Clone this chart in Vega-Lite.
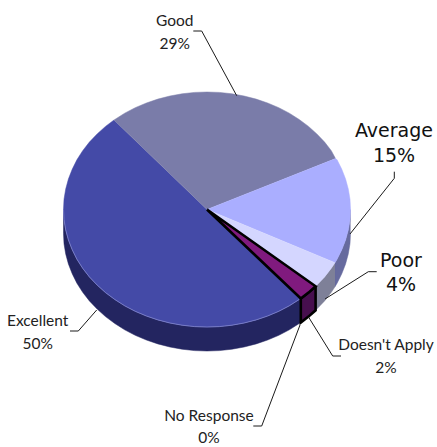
{"$schema":"https://vega.github.io/schema/vega-lite/v6.json","width":437,"height":447,"padding":0,"autosize":"none","background":"white","view":{"stroke":null},
"datasets":{
"sides":[
{"slice":"Average side","order":1,"x":350.5,"y":209.5},{"slice":"Average side","order":2,"x":350.0,"y":219.7},{"slice":"Average side","order":3,"x":348.3,"y":229.9},{"slice":"Average side","order":4,"x":345.6,"y":239.9},{"slice":"Average side","order":5,"x":341.8,"y":249.7},{"slice":"Average side","order":6,"x":337.1,"y":259.2},{"slice":"Average side","order":7,"x":335.0,"y":262.7},{"slice":"Average side","order":8,"x":335.0,"y":286.7},{"slice":"Average side","order":9,"x":337.1,"y":283.2},{"slice":"Average side","order":10,"x":341.8,"y":273.7},{"slice":"Average side","order":11,"x":345.6,"y":263.9},{"slice":"Average side","order":12,"x":348.3,"y":253.9},{"slice":"Average side","order":13,"x":350.0,"y":243.7},{"slice":"Average side","order":14,"x":350.5,"y":233.5},
{"slice":"Poor side","order":1,"x":335.0,"y":262.7},{"slice":"Poor side","order":2,"x":331.3,"y":268.3},{"slice":"Poor side","order":3,"x":324.6,"y":276.9},{"slice":"Poor side","order":4,"x":316.9,"y":285.0},{"slice":"Poor side","order":5,"x":315.6,"y":286.3},{"slice":"Poor side","order":6,"x":315.6,"y":310.3},{"slice":"Poor side","order":7,"x":316.9,"y":309.0},{"slice":"Poor side","order":8,"x":324.6,"y":300.9},{"slice":"Poor side","order":9,"x":331.3,"y":292.3},{"slice":"Poor side","order":10,"x":335.0,"y":286.7},
{"slice":"Excellent side","order":1,"x":300.8,"y":298.5},{"slice":"Excellent side","order":2,"x":299.2,"y":299.5},{"slice":"Excellent side","order":3,"x":289.3,"y":305.8},{"slice":"Excellent side","order":4,"x":278.8,"y":311.3},{"slice":"Excellent side","order":5,"x":267.6,"y":316.0},{"slice":"Excellent side","order":6,"x":256.1,"y":319.9},{"slice":"Excellent side","order":7,"x":244.1,"y":323.0},{"slice":"Excellent side","order":8,"x":231.9,"y":325.2},{"slice":"Excellent side","order":9,"x":219.5,"y":326.6},{"slice":"Excellent side","order":10,"x":207,"y":327},{"slice":"Excellent side","order":11,"x":194.5,"y":326.6},{"slice":"Excellent side","order":12,"x":182.1,"y":325.2},{"slice":"Excellent side","order":13,"x":169.9,"y":323.0},{"slice":"Excellent side","order":14,"x":157.9,"y":319.9},{"slice":"Excellent side","order":15,"x":146.4,"y":316.0},{"slice":"Excellent side","order":16,"x":135.2,"y":311.3},{"slice":"Excellent side","order":17,"x":124.7,"y":305.8},{"slice":"Excellent side","order":18,"x":114.8,"y":299.5},{"slice":"Excellent side","order":19,"x":105.5,"y":292.6},{"slice":"Excellent side","order":20,"x":97.1,"y":285.0},{"slice":"Excellent side","order":21,"x":89.4,"y":276.9},{"slice":"Excellent side","order":22,"x":82.7,"y":268.3},{"slice":"Excellent side","order":23,"x":76.9,"y":259.2},{"slice":"Excellent side","order":24,"x":72.2,"y":249.7},{"slice":"Excellent side","order":25,"x":68.4,"y":239.9},{"slice":"Excellent side","order":26,"x":65.7,"y":229.9},{"slice":"Excellent side","order":27,"x":64.0,"y":219.7},{"slice":"Excellent side","order":28,"x":63.5,"y":209.5},{"slice":"Excellent side","order":29,"x":63.5,"y":233.5},{"slice":"Excellent side","order":30,"x":64.0,"y":243.7},{"slice":"Excellent side","order":31,"x":65.7,"y":253.9},{"slice":"Excellent side","order":32,"x":68.4,"y":263.9},{"slice":"Excellent side","order":33,"x":72.2,"y":273.7},{"slice":"Excellent side","order":34,"x":76.9,"y":283.2},{"slice":"Excellent side","order":35,"x":82.7,"y":292.3},{"slice":"Excellent side","order":36,"x":89.4,"y":300.9},{"slice":"Excellent side","order":37,"x":97.1,"y":309.0},{"slice":"Excellent side","order":38,"x":105.5,"y":316.6},{"slice":"Excellent side","order":39,"x":114.8,"y":323.5},{"slice":"Excellent side","order":40,"x":124.7,"y":329.8},{"slice":"Excellent side","order":41,"x":135.2,"y":335.3},{"slice":"Excellent side","order":42,"x":146.4,"y":340.0},{"slice":"Excellent side","order":43,"x":157.9,"y":343.9},{"slice":"Excellent side","order":44,"x":169.9,"y":347.0},{"slice":"Excellent side","order":45,"x":182.1,"y":349.2},{"slice":"Excellent side","order":46,"x":194.5,"y":350.6},{"slice":"Excellent side","order":47,"x":207,"y":351},{"slice":"Excellent side","order":48,"x":219.5,"y":350.6},{"slice":"Excellent side","order":49,"x":231.9,"y":349.2},{"slice":"Excellent side","order":50,"x":244.1,"y":347.0},{"slice":"Excellent side","order":51,"x":256.1,"y":343.9},{"slice":"Excellent side","order":52,"x":267.6,"y":340.0},{"slice":"Excellent side","order":53,"x":278.8,"y":335.3},{"slice":"Excellent side","order":54,"x":289.3,"y":329.8},{"slice":"Excellent side","order":55,"x":299.2,"y":323.5},{"slice":"Excellent side","order":56,"x":300.8,"y":322.5}
],
"tops":[
{"slice":"Excellent","order":0,"x":207,"y":209.5},{"slice":"Excellent","order":1,"x":300.8,"y":298.5},{"slice":"Excellent","order":2,"x":299.2,"y":299.5},{"slice":"Excellent","order":3,"x":289.3,"y":305.8},{"slice":"Excellent","order":4,"x":278.8,"y":311.3},{"slice":"Excellent","order":5,"x":267.6,"y":316.0},{"slice":"Excellent","order":6,"x":256.1,"y":319.9},{"slice":"Excellent","order":7,"x":244.1,"y":323.0},{"slice":"Excellent","order":8,"x":231.9,"y":325.2},{"slice":"Excellent","order":9,"x":219.5,"y":326.6},{"slice":"Excellent","order":10,"x":207,"y":327},{"slice":"Excellent","order":11,"x":194.5,"y":326.6},{"slice":"Excellent","order":12,"x":182.1,"y":325.2},{"slice":"Excellent","order":13,"x":169.9,"y":323.0},{"slice":"Excellent","order":14,"x":157.9,"y":319.9},{"slice":"Excellent","order":15,"x":146.4,"y":316.0},{"slice":"Excellent","order":16,"x":135.2,"y":311.3},{"slice":"Excellent","order":17,"x":124.7,"y":305.8},{"slice":"Excellent","order":18,"x":114.8,"y":299.5},{"slice":"Excellent","order":19,"x":105.5,"y":292.6},{"slice":"Excellent","order":20,"x":97.1,"y":285.0},{"slice":"Excellent","order":21,"x":89.4,"y":276.9},{"slice":"Excellent","order":22,"x":82.7,"y":268.3},{"slice":"Excellent","order":23,"x":76.9,"y":259.2},{"slice":"Excellent","order":24,"x":72.2,"y":249.7},{"slice":"Excellent","order":25,"x":68.4,"y":239.9},{"slice":"Excellent","order":26,"x":65.7,"y":229.9},{"slice":"Excellent","order":27,"x":64.0,"y":219.7},{"slice":"Excellent","order":28,"x":63.5,"y":209.5},{"slice":"Excellent","order":29,"x":64.0,"y":199.3},{"slice":"Excellent","order":30,"x":65.7,"y":189.1},{"slice":"Excellent","order":31,"x":68.4,"y":179.1},{"slice":"Excellent","order":32,"x":72.2,"y":169.3},{"slice":"Excellent","order":33,"x":76.9,"y":159.8},{"slice":"Excellent","order":34,"x":82.7,"y":150.7},{"slice":"Excellent","order":35,"x":89.4,"y":142.1},{"slice":"Excellent","order":36,"x":97.1,"y":134.0},{"slice":"Excellent","order":37,"x":105.5,"y":126.4},{"slice":"Excellent","order":38,"x":114.0,"y":120.0},
{"slice":"Good","order":0,"x":207,"y":209.5},{"slice":"Good","order":1,"x":114.0,"y":120.0},{"slice":"Good","order":2,"x":114.8,"y":119.5},{"slice":"Good","order":3,"x":124.7,"y":113.2},{"slice":"Good","order":4,"x":135.2,"y":107.7},{"slice":"Good","order":5,"x":146.4,"y":103.0},{"slice":"Good","order":6,"x":157.9,"y":99.1},{"slice":"Good","order":7,"x":169.9,"y":96.0},{"slice":"Good","order":8,"x":182.1,"y":93.8},{"slice":"Good","order":9,"x":194.5,"y":92.4},{"slice":"Good","order":10,"x":207,"y":92},{"slice":"Good","order":11,"x":219.5,"y":92.4},{"slice":"Good","order":12,"x":231.9,"y":93.8},{"slice":"Good","order":13,"x":244.1,"y":96.0},{"slice":"Good","order":14,"x":256.1,"y":99.1},{"slice":"Good","order":15,"x":267.6,"y":103.0},{"slice":"Good","order":16,"x":278.8,"y":107.7},{"slice":"Good","order":17,"x":289.3,"y":113.2},{"slice":"Good","order":18,"x":299.2,"y":119.5},{"slice":"Good","order":19,"x":308.5,"y":126.4},{"slice":"Good","order":20,"x":316.9,"y":134.0},{"slice":"Good","order":21,"x":324.6,"y":142.1},{"slice":"Good","order":22,"x":331.3,"y":150.7},{"slice":"Good","order":23,"x":335.5,"y":158.6},
{"slice":"Average","order":0,"x":207,"y":209.5},{"slice":"Average","order":1,"x":335.5,"y":158.6},{"slice":"Average","order":2,"x":337.1,"y":159.8},{"slice":"Average","order":3,"x":341.8,"y":169.3},{"slice":"Average","order":4,"x":345.6,"y":179.1},{"slice":"Average","order":5,"x":348.3,"y":189.1},{"slice":"Average","order":6,"x":350.0,"y":199.3},{"slice":"Average","order":7,"x":350.5,"y":209.5},{"slice":"Average","order":8,"x":350.0,"y":219.7},{"slice":"Average","order":9,"x":348.3,"y":229.9},{"slice":"Average","order":10,"x":345.6,"y":239.9},{"slice":"Average","order":11,"x":341.8,"y":249.7},{"slice":"Average","order":12,"x":337.1,"y":259.2},{"slice":"Average","order":13,"x":335.0,"y":262.7},
{"slice":"Poor","order":0,"x":207,"y":209.5},{"slice":"Poor","order":1,"x":335.0,"y":262.7},{"slice":"Poor","order":2,"x":331.3,"y":268.3},{"slice":"Poor","order":3,"x":324.6,"y":276.9},{"slice":"Poor","order":4,"x":316.9,"y":285.0},{"slice":"Poor","order":5,"x":315.6,"y":286.3}
],
"outlined":[
{"slice":"Doesn't Apply side","order":1,"x":315.6,"y":286.3},{"slice":"Doesn't Apply side","order":2,"x":308.5,"y":292.6},{"slice":"Doesn't Apply side","order":3,"x":300.8,"y":298.5},{"slice":"Doesn't Apply side","order":4,"x":300.8,"y":322.5},{"slice":"Doesn't Apply side","order":5,"x":308.5,"y":316.6},{"slice":"Doesn't Apply side","order":6,"x":315.6,"y":310.3},{"slice":"Doesn't Apply side","order":7,"x":315.6,"y":286.3},
{"slice":"Doesn't Apply","order":1,"x":207,"y":209.5},{"slice":"Doesn't Apply","order":2,"x":315.6,"y":286.3},{"slice":"Doesn't Apply","order":3,"x":308.5,"y":292.6},{"slice":"Doesn't Apply","order":4,"x":300.8,"y":298.5},{"slice":"Doesn't Apply","order":5,"x":207,"y":209.5}
],
"leaders":[
{"label":"Good","order":1,"x":193.3,"y":31},{"label":"Good","order":2,"x":201.7,"y":31},{"label":"Good","order":3,"x":236.7,"y":95.7},
{"label":"Average","order":1,"x":394.3,"y":171.7},{"label":"Average","order":2,"x":394.3,"y":178.3},{"label":"Average","order":3,"x":350,"y":234},
{"label":"Poor","order":1,"x":376.7,"y":271.7},{"label":"Poor","order":2,"x":368.3,"y":271.7},{"label":"Poor","order":3,"x":325,"y":299},
{"label":"Doesn't Apply","order":1,"x":341,"y":356},{"label":"Doesn't Apply","order":2,"x":332.7,"y":356},{"label":"Doesn't Apply","order":3,"x":308.3,"y":316.7},
{"label":"No Response","order":1,"x":253.3,"y":426},{"label":"No Response","order":2,"x":261.7,"y":426},{"label":"No Response","order":3,"x":300,"y":325},
{"label":"Excellent","order":1,"x":70,"y":331},{"label":"Excellent","order":2,"x":78.3,"y":331},{"label":"Excellent","order":3,"x":96.7,"y":310}
],
"narrowText":[
{"text":"Good","x":174.7,"y":25.7},{"text":"29%","x":174.7,"y":48.7},
{"text":"Excellent","x":37.7,"y":325.7},{"text":"50%","x":37.7,"y":349},
{"text":"Doesn't Apply","x":386,"y":350},{"text":"2%","x":386,"y":373},
{"text":"No Response","x":209,"y":420.7},{"text":"0%","x":209,"y":442.7}
],
"wideText":[
{"text":"Average","x":394,"y":137},{"text":"15%","x":394,"y":162},
{"text":"Poor","x":401,"y":267},{"text":"4%","x":401,"y":291}
]},
"layer":[
{"data":{"name":"sides"},"mark":{"type":"line","strokeWidth":0.5},"encoding":{
"x":{"field":"x","type":"quantitative","scale":{"domain":[0,437],"nice":false,"zero":false},"axis":null},
"y":{"field":"y","type":"quantitative","scale":{"domain":[447,0],"nice":false,"zero":false},"axis":null},
"order":{"field":"order","type":"quantitative"},
"fill":{"field":"slice","type":"nominal","legend":null,"scale":{"domain":["Average side","Poor side","Excellent side"],"range":["#666A9E","#7E8098","#232560"]}},
"stroke":{"field":"slice","type":"nominal","legend":null,"scale":{"domain":["Average side","Poor side","Excellent side"],"range":["#666A9E","#7E8098","#232560"]}}}},
{"data":{"name":"tops"},"mark":{"type":"line","strokeWidth":0.5},"encoding":{
"x":{"field":"x","type":"quantitative","axis":null},
"y":{"field":"y","type":"quantitative","axis":null},
"order":{"field":"order","type":"quantitative"},
"fill":{"field":"slice","type":"nominal","legend":null,"scale":{"domain":["Excellent","Good","Average","Poor"],"range":["#444AA7","#7A7CA9","#AAAEFF","#D4D6FF"]}},
"stroke":{"field":"slice","type":"nominal","legend":null,"scale":{"domain":["Excellent","Good","Average","Poor"],"range":["#444AA7","#7A7CA9","#AAAEFF","#D4D6FF"]}}}},
{"data":{"name":"sides"},"transform":[{"filter":"datum.slice === 'Excellent side' && datum.order <= 28"}],"mark":{"type":"line","strokeWidth":0.7,"stroke":"#8a8ed6"},"encoding":{
"x":{"field":"x","type":"quantitative","axis":null},
"y":{"field":"y","type":"quantitative","axis":null},
"order":{"field":"order","type":"quantitative"}}},
{"data":{"name":"outlined"},"mark":{"type":"line","strokeWidth":2.6,"stroke":"#000000","strokeJoin":"miter"},"encoding":{
"x":{"field":"x","type":"quantitative","axis":null},
"y":{"field":"y","type":"quantitative","axis":null},
"order":{"field":"order","type":"quantitative"},
"detail":{"field":"slice","type":"nominal"},
"fill":{"field":"slice","type":"nominal","legend":null,"scale":{"domain":["Doesn't Apply","Doesn't Apply side"],"range":["#801A7E","#470F4E"]}}}},
{"data":{"name":"leaders"},"mark":{"type":"line","strokeWidth":1,"stroke":"#1a1a1a"},"encoding":{
"x":{"field":"x","type":"quantitative","axis":null},
"y":{"field":"y","type":"quantitative","axis":null},
"order":{"field":"order","type":"quantitative"},
"detail":{"field":"label","type":"nominal"}}},
{"data":{"name":"narrowText"},"mark":{"type":"text","font":"Lato","fontSize":15.5,"align":"center","baseline":"alphabetic","color":"#222222"},"encoding":{
"x":{"field":"x","type":"quantitative","axis":null},
"y":{"field":"y","type":"quantitative","axis":null},
"text":{"field":"text","type":"nominal"}}},
{"data":{"name":"wideText"},"mark":{"type":"text","font":"DejaVu Sans","fontSize":19,"align":"center","baseline":"alphabetic","color":"#111111"},"encoding":{
"x":{"field":"x","type":"quantitative","axis":null},
"y":{"field":"y","type":"quantitative","axis":null},
"text":{"field":"text","type":"nominal"}}}
],
"resolve":{"scale":{"fill":"independent","stroke":"independent"}}}
